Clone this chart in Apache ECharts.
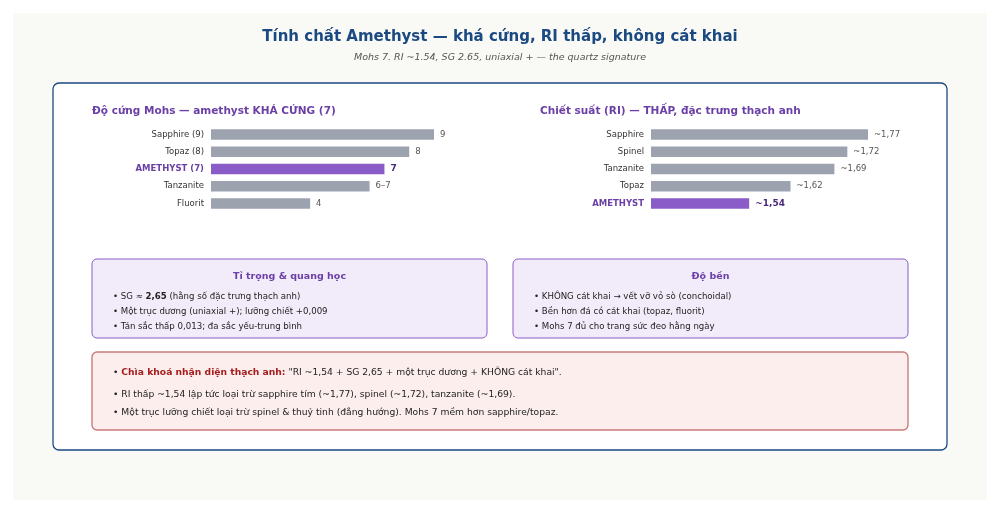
<!DOCTYPE html>
<html><head><meta charset="utf-8">
<script src="https://cdn.jsdelivr.net/npm/echarts@6/dist/echarts.min.js"></script>
<style>html,body{margin:0;padding:0;background:#fff}#c{width:1000px;height:513px}</style>
</head><body><div id="c"></div>
<script>
const mohsNames = ['Sapphire (9)', 'Topaz (8)', 'AMETHYST (7)', 'Tanzanite', 'Fluorit'];
const mohsValues = [9, 8, 7, 6.4, 4];
const mohsLabels = ['9', '8', '7', '6–7', '4'];
const riNames = ['Sapphire', 'Spinel', 'Tanzanite', 'Topaz', 'AMETHYST'];
const riValues = [1.77, 1.73, 1.705, 1.62, 1.54];
const riLabels = ['~1,77', '~1,72', '~1,69', '~1,62', '~1,54'];
const mohsHighlight = 2;
const riHighlight = 4;
const box1Title = 'Tỉ trọng & quang học';
const box1Lines = ['SG ≈ {b|2,65} (hằng số đặc trưng thạch anh)', 'Một trục dương (uniaxial +); lưỡng chiết +0,009', 'Tán sắc thấp 0,013; đa sắc yếu-trung bình'];
const box2Title = 'Độ bền';
const box2Lines = ['KHÔNG cát khai → vết vỡ vỏ sò (conchoidal)', 'Bền hơn đá có cát khai (topaz, fluorit)', 'Mohs 7 đủ cho trang sức đeo hằng ngày'];
const keyLines = ['{r|Chìa khoá nhận diện thạch anh:} "RI ~1,54 + SG 2,65 + một trục dương + KHÔNG cát khai".', 'RI thấp ~1,54 lập tức loại trừ sapphire tím (~1,77), spinel (~1,72), tanzanite (~1,69).', 'Một trục lưỡng chiết loại trừ spinel & thuỷ tinh (đẳng hướng). Mohs 7 mềm hơn sapphire/topaz.'];

const FONT = 'DejaVu Sans';
const GRAY = '#9ca3af', PURPLE = '#8a5cc8', DPURPLE = '#6a3fa6';

function barData(vals, labels, hi) {
  return vals.map((v, i) => ({
    value: v,
    itemStyle: { color: i === hi ? PURPLE : GRAY },
    label: i === hi ? { fontWeight: 'bold', color: '#4b2a7d', fontSize: 9 } : {}
  }));
}
function catLabel(hi) {
  return {
    fontFamily: FONT, fontSize: 8.5, color: '#333', margin: 7,
    formatter: (v, i) => i === hi ? '{h|' + v + '}' : v,
    rich: { h: { fontFamily: FONT, fontSize: 8.5, fontWeight: 'bold', color: DPURPLE } }
  };
}

const chart = echarts.init(document.getElementById('c'), null, { renderer: 'canvas' });

const graphics = [
  { type: 'rect', shape: { x: 13, y: 13, width: 974, height: 487 }, style: { fill: '#f9f9f5' }, z: -10 },
  { type: 'rect', shape: { x: 53, y: 83, width: 894, height: 367, r: 6 }, style: { fill: '#fff', stroke: '#1b4a82', lineWidth: 1.3 }, z: -5 },
  { type: 'text', x: 500, y: 37, style: { text: 'Tính chất Amethyst — khá cứng, RI thấp, không cát khai', font: 'bold 15px "DejaVu Sans"', fill: '#1b4a82', textAlign: 'center', textVerticalAlign: 'middle' } },
  { type: 'text', x: 500, y: 58, style: { text: 'Mohs 7. RI ~1.54, SG 2.65, uniaxial + — the quartz signature', font: 'italic 9.5px "DejaVu Sans"', fill: '#555', textAlign: 'center', textVerticalAlign: 'middle' } },
  { type: 'text', x: 92, y: 111, style: { text: 'Độ cứng Mohs — amethyst KHÁ CỨNG (7)', font: 'bold 10.5px "DejaVu Sans"', fill: DPURPLE, textVerticalAlign: 'middle' } },
  { type: 'text', x: 540, y: 111, style: { text: 'Chiết suất (RI) — THẤP, đặc trưng thạch anh', font: 'bold 10.5px "DejaVu Sans"', fill: DPURPLE, textVerticalAlign: 'middle' } }
];

function statBox(x, title, lines) {
  graphics.push({ type: 'rect', shape: { x: x, y: 259, width: 395, height: 79, r: 5 }, style: { fill: '#f2ecfa', stroke: '#8a5cc8', lineWidth: 1 }, z: -4 });
  graphics.push({ type: 'text', x: x + 197.5, y: 277, style: { text: title, font: 'bold 9.5px "DejaVu Sans"', fill: DPURPLE, textAlign: 'center', textVerticalAlign: 'middle' } });
  lines.forEach((l, i) => {
    graphics.push({ type: 'text', x: x + 21, y: 297 + i * 15, style: {
      text: '• ' + l, fontFamily: FONT, fontSize: 8.6, fill: '#222', verticalAlign: 'middle',
      rich: { b: { fontFamily: FONT, fontSize: 8.6, fontWeight: 'bold', fill: '#222' } } } });
  });
}
statBox(92, box1Title, box1Lines);
statBox(513, box2Title, box2Lines);

graphics.push({ type: 'rect', shape: { x: 92, y: 352, width: 816, height: 78, r: 5 }, style: { fill: '#fdeeee', stroke: '#c87c7c', lineWidth: 1.4 }, z: -4 });
const keyY = [373, 395, 413];
keyLines.forEach((l, i) => {
  graphics.push({ type: 'text', x: 113, y: keyY[i], style: {
    text: '• ' + l, fontFamily: FONT, fontSize: 9.2, fill: '#222', verticalAlign: 'middle',
    rich: { r: { fontFamily: FONT, fontSize: 9.2, fontWeight: 'bold', fill: '#a51d1d' } } } });
});

chart.setOption({
  animation: false,
  textStyle: { fontFamily: FONT },
  graphic: graphics,
  grid: [
    { left: 211, top: 126, width: 223, height: 86 },
    { left: 651, top: 126, width: 217, height: 86 }
  ],
  xAxis: [
    { gridIndex: 0, type: 'value', min: 0, max: 9, show: false },
    { gridIndex: 1, type: 'value', min: 1.35, max: 1.77, show: false }
  ],
  yAxis: [
    { gridIndex: 0, type: 'category', data: mohsNames, inverse: true, axisLine: { show: false }, axisTick: { show: false }, axisLabel: catLabel(mohsHighlight) },
    { gridIndex: 1, type: 'category', data: riNames, inverse: true, axisLine: { show: false }, axisTick: { show: false }, axisLabel: catLabel(riHighlight) }
  ],
  series: [
    { type: 'bar', xAxisIndex: 0, yAxisIndex: 0, barWidth: 10.5, data: barData(mohsValues, mohsLabels, mohsHighlight),
      label: { show: true, position: 'right', distance: 6, fontFamily: FONT, fontSize: 8.5, color: '#555', formatter: p => mohsLabels[p.dataIndex] } },
    { type: 'bar', xAxisIndex: 1, yAxisIndex: 1, barWidth: 10.5, data: barData(riValues, riLabels, riHighlight),
      label: { show: true, position: 'right', distance: 6, fontFamily: FONT, fontSize: 8.5, color: '#555', formatter: p => riLabels[p.dataIndex] } }
  ]
});
</script></body></html>
